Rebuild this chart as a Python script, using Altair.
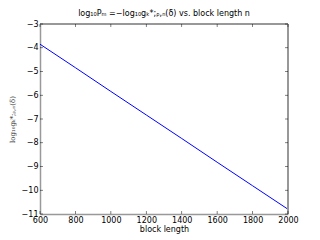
import altair as alt
import pandas as pd

block_length = [600, 800, 1000, 1200, 1400, 1600, 1800, 2000]
log_g = [-3.85, -4.84, -5.84, -6.83, -7.82, -8.82, -9.81, -10.80]
x_ticks = [600, 800, 1000, 1200, 1400, 1600, 1800, 2000]
y_ticks = [-11, -10, -9, -8, -7, -6, -5, -4, -3]

W, H = 248, 190
df = pd.DataFrame({"n": block_length, "v": log_g})
dx = pd.DataFrame({"n": x_ticks})
dy = pd.DataFrame({"v": y_ticks})

frame = "#999999"
xs = alt.Scale(domain=[600, 2000], nice=False, zero=False)
ys = alt.Scale(domain=[-11, -3], nice=False, zero=False)

x_axis = alt.Axis(title="block length", values=x_ticks, labelOverlap=False,
                  format="d", ticks=False, domainColor=frame, domainWidth=1.5,
                  labelPadding=2, titlePadding=1, grid=False, labelFlush=False,
                  labelFont="DejaVu Sans", titleFont="DejaVu Sans", labelFontSize=8,
                  titleFontSize=8, titleFontWeight="normal", labelColor="#000", titleColor="#000")
y_axis = alt.Axis(title="log₁₀gₖ*;ᵨ,ₙ(δ)", values=y_ticks, labelOverlap=False,
                  format="d", ticks=False, domainColor=frame, domainWidth=1.5,
                  labelPadding=2, titlePadding=6, grid=False, labelFlush=False,
                  labelFont="DejaVu Sans", titleFont="DejaVu Serif", labelFontSize=8,
                  titleFontSize=7, titleFontWeight="normal", labelColor="#000", titleColor="#333")

line = alt.Chart(df).mark_line(color="#0000ff", strokeWidth=1, clip=True).encode(
    x=alt.X("n:Q", scale=xs, axis=x_axis),
    y=alt.Y("v:Q", scale=ys, axis=y_axis),
)

top = alt.Chart(df).mark_rule(color=frame, strokeWidth=1.5).encode(
    x=alt.value(0), x2=alt.value(W), y=alt.value(0))
right = alt.Chart(df).mark_rule(color=frame, strokeWidth=1.5).encode(
    x=alt.value(W), y=alt.value(0), y2=alt.value(H))

tk = dict(color="#000", size=3, thickness=0.7)
tick_bottom = alt.Chart(dx).mark_tick(orient="vertical", yOffset=-1.5, **tk).encode(
    x=alt.X("n:Q", scale=xs, axis=x_axis), y=alt.value(H))
tick_top = alt.Chart(dx).mark_tick(orient="vertical", yOffset=1.5, **tk).encode(
    x=alt.X("n:Q", scale=xs, axis=x_axis), y=alt.value(0))
tick_left = alt.Chart(dy).mark_tick(orient="horizontal", xOffset=1.5, **tk).encode(
    y=alt.Y("v:Q", scale=ys, axis=y_axis), x=alt.value(0))
tick_right = alt.Chart(dy).mark_tick(orient="horizontal", xOffset=-1.5, **tk).encode(
    y=alt.Y("v:Q", scale=ys, axis=y_axis), x=alt.value(W))

chart = alt.layer(line, top, right, tick_bottom, tick_top, tick_left, tick_right).properties(
    width=W, height=H,
    title=alt.TitleParams("log₁₀Pₘ =−log₁₀gₖ*;ᵨ,ₙ(δ) vs. block length n",
                          font="DejaVu Sans", fontSize=8, fontWeight="normal", offset=2, color="#000"),
    autosize=alt.AutoSizeParams(type="none"),
    padding={"left": 32, "top": 16, "right": 16, "bottom": 24},
).configure_view(stroke=None)

chart.save("out.html", embed_options={"renderer": "svg", "actions": False})
